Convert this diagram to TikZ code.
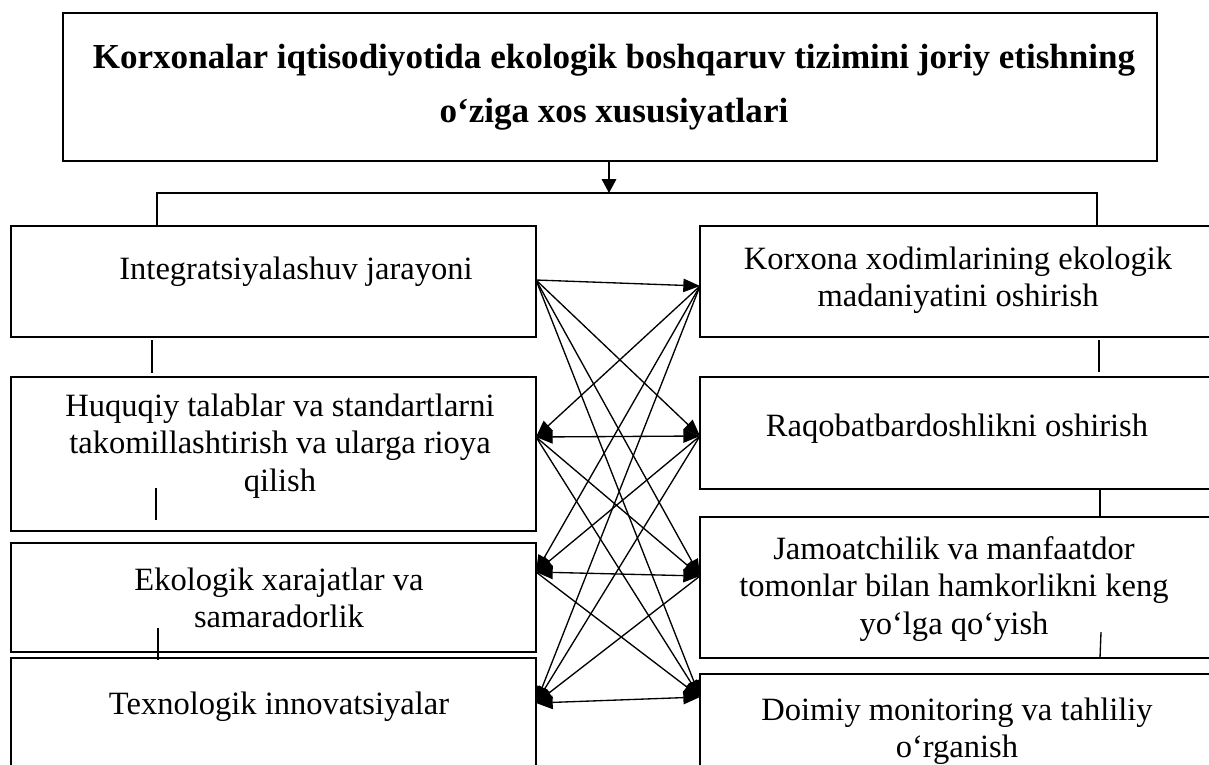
\documentclass[tikz,border=0pt]{standalone}
\usepackage{fontspec}
\setmainfont{Liberation Serif}
\usetikzlibrary{arrows.meta}
\begin{document}
\begin{tikzpicture}[x=0.75pt,y=-0.75pt,
  box/.style={draw,line width=2pt,inner sep=0pt},
  txt/.style={align=center,inner sep=0pt,font=\fontsize{24.4pt}{28.1pt}\selectfont},
  ttl/.style={align=center,inner sep=0pt,font=\fontsize{26.3pt}{40.5pt}\selectfont\bfseries},
  hd/.tip={Triangle[length=12.5pt,width=10pt]},
  con/.style={line width=1pt,-hd},
  dcon/.style={line width=1pt,hd-hd},
  thin/.style={line width=1pt}]
\path[use as bounding box] (0,0) rectangle (1209,764);
\clip (0,0) rectangle (1209,764);
% title
\node[box,minimum width=1094*0.75pt,minimum height=148*0.75pt] (T) at (610,87) {};
\node[ttl] (Tt) at (614,87) {Korxonalar iqtisodiyotida ekologik boshqaruv tizimini joriy etishning\\o‘ziga xos xususiyatlari};
% left boxes
\node[box,minimum width=525*0.75pt,minimum height=111*0.75pt] (L1) at (273.5,281.5) {};
\node[box,minimum width=525*0.75pt,minimum height=154*0.75pt] (L2) at (273.5,454) {};
\node[box,minimum width=525*0.75pt,minimum height=109*0.75pt] (L3) at (273.5,597.5) {};
\node[box,minimum width=525*0.75pt,minimum height=142*0.75pt] (L4) at (273.5,729) {};
% right boxes
\node[box,minimum width=515*0.75pt,minimum height=111*0.75pt] (R1) at (957.5,281.5) {};
\node[box,minimum width=515*0.75pt,minimum height=112*0.75pt] (R2) at (957.5,433) {};
\node[box,minimum width=515*0.75pt,minimum height=141*0.75pt] (R3) at (957.5,587.5) {};
\node[box,minimum width=515*0.75pt,minimum height=126*0.75pt] (R4) at (957.5,737) {};
% texts
\node[txt] (L1t) at (296,272) {Integratsiyalashuv jarayoni};
\node[txt] (L2t) at (280,446) {Huquqiy talablar va standartlarni\\takomillashtirish va ularga rioya\\qilish};
\node[txt] (L3t) at (279,598) {Ekologik xarajatlar va\\samaradorlik};
\node[txt] (L4t) at (279,707) {Texnologik innovatsiyalar};
\node[txt] (R1t) at (958,280) {Korxona xodimlarining ekologik\\madaniyatini oshirish};
\node[txt] (R2t) at (957,429) {Raqobatbardoshlikni oshirish};
\node[txt] (R3t) at (954,589) {Jamoatchilik va manfaatdor\\tomonlar bilan hamkorlikni keng\\yo‘lga qo‘yish};
\node[txt] (R4t) at (957,731) {Doimiy monitoring va tahliliy\\o‘rganish};
% top connector
\coordinate (tb) at (609,193);
\coordinate (hl) at (157,193);
\coordinate (hr) at (1097,193);
\draw[thin,-{Triangle[length=10.5pt,width=11pt]}] (T.south -| tb) -- (tb);
\draw[thin] (L1.north -| hl) -- (hl) -- (hr) -- (R1.north -| hr);
% anchor points
\coordinate (l1) at (536,280);
\coordinate (l2) at (536,437);
\coordinate (l3) at (536,572);
\coordinate (l4) at (536,703);
\coordinate (r1) at (700,286);
\coordinate (r2) at (700,436);
\coordinate (r3) at (700,576);
\coordinate (r4) at (700,697);
\draw[con] (l1) -- (r1);
\draw[con] (l1) -- (r2);
\draw[con] (l1) -- (r3);
\draw[con] (l1) -- (r4);
\draw[con] (r1) -- (l2);
\draw[con] (r1) -- (l3);
\draw[con] (r1) -- (l4);
\draw[dcon] (l2) -- (r2);
\draw[con] (l2) -- (r3);
\draw[con] (l2) -- (r4);
\draw[con] (r2) -- (l3);
\draw[con] (r2) -- (l4);
\draw[dcon] (l3) -- (r3);
\draw[con] (l3) -- (r4);
\draw[con] (r3) -- (l4);
\draw[dcon] (l4) -- (r4);
% small ticks
\draw[thin] (152,340) -- (152,373);
\draw[thin] (156,488) -- (156,520);
\draw[thin] (158,628) -- (158,660);
\draw[thin] (1099,340) -- (1099,372);
\draw[thin] (1100,489) -- (1100,516);
\draw[thin] (1101,632) -- (1100,658);
\end{tikzpicture}
\end{document}
